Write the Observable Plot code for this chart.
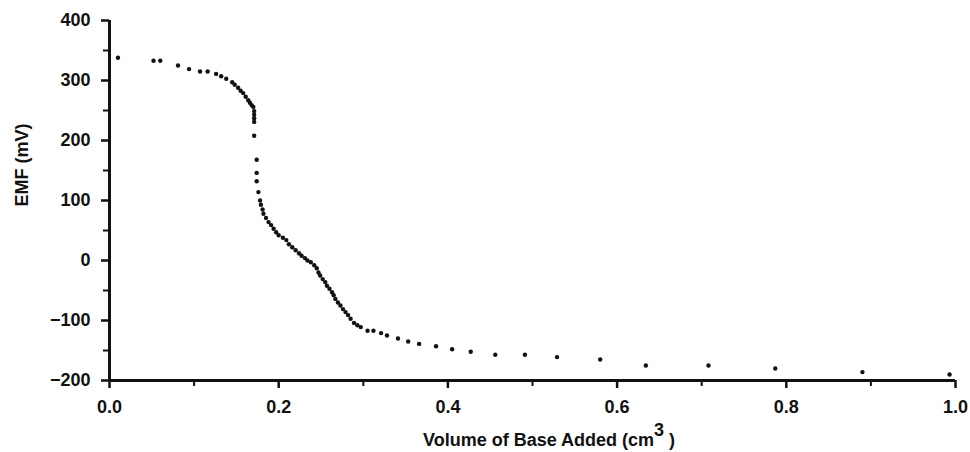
<!DOCTYPE html>
<html><head><meta charset="utf-8">
<script src="https://cdn.jsdelivr.net/npm/d3@7"></script>
<script src="https://cdn.jsdelivr.net/npm/@observablehq/plot@0.6"></script>
<style>body{margin:0;background:#fff;}</style>
</head><body><div id="chart"></div>
<script>
const volume = [0.010,0.052,0.060,0.081,0.094,0.107,0.116,0.126,0.132,0.138,0.145,0.148,0.152,0.155,0.158,0.161,0.164,0.166,0.168,0.170,0.171,0.171,0.171,0.171,0.171,0.174,0.174,0.174,0.176,0.178,0.179,0.181,0.182,0.185,0.188,0.191,0.194,0.197,0.200,0.205,0.209,0.212,0.216,0.220,0.224,0.227,0.231,0.234,0.238,0.242,0.245,0.247,0.249,0.252,0.255,0.257,0.260,0.263,0.265,0.267,0.270,0.273,0.276,0.279,0.282,0.285,0.289,0.293,0.297,0.305,0.312,0.321,0.328,0.341,0.353,0.366,0.386,0.405,0.427,0.456,0.491,0.529,0.580,0.634,0.708,0.787,0.890,0.993];
const emf = [338,333,333,325,319,315,315,311,307,303,297,293,288,283,279,273,267,263,259,256,249,243,237,231,208,168,146,132,114,100,93,85,78,71,64,59,53,47,42,38,34,27,22,17,12,8,4,0,-3,-8,-13,-20,-25,-31,-36,-42,-47,-53,-58,-64,-70,-75,-81,-86,-91,-97,-104,-108,-111,-117,-117,-121,-125,-130,-135,-139,-143,-148,-152,-157,-157,-161,-165,-175,-175,-180,-186,-190];
const xTicks = [0, 0.2, 0.4, 0.6, 0.8, 1.0];
const xMinorTicks = [0.1, 0.3, 0.5, 0.7, 0.9];
const yTicks = [-200, -100, 0, 100, 200, 300, 400];
const yMinorTicks = [-150, -50, 50, 150, 250, 350];
const yLabel = "EMF (mV)";
const xLabelMain = "Volume of Base Added (cm";
const xLabelSup = "3";
const xLabelEnd = " )";

const data = volume.map((v, i) => ({v, e: emf[i]}));

const plot = Plot.plot({
  width: 970, height: 452,
  marginLeft: 109, marginRight: 15, marginTop: 20, marginBottom: 72,
  x: {domain: [0, 1]},
  y: {domain: [-200, 400]},
  style: {fontFamily: "'Liberation Sans', Arial, sans-serif", fontSize: "18px", fontWeight: "bold", color: "#111", background: "#fff", overflow: "visible"},
  marks: [
    Plot.axisX({ticks: xTicks, tickFormat: d => d.toFixed(1), tickSize: 8, tickPadding: 12, label: null, strokeWidth: 2.5}),
    Plot.axisX({ticks: xMinorTicks, tickFormat: () => "", tickSize: 6, label: null, strokeWidth: 2}),
    Plot.axisY({ticks: yTicks, tickSize: 8, tickPadding: 11, label: null, strokeWidth: 2.5}),
    Plot.axisY({ticks: yMinorTicks, tickFormat: () => "", tickSize: 6, label: null, strokeWidth: 2}),
    Plot.ruleY([-200], {strokeWidth: 3, stroke: "#111"}),
    Plot.ruleX([0], {strokeWidth: 3, stroke: "#111"}),
    Plot.dot(data, {x: "v", y: "e", r: 2.2, fill: "#111", stroke: "none"}),
    Plot.text([yLabel], {frameAnchor: "left", dx: -87, dy: 6, rotate: -90, fontSize: 18, fontWeight: "bold", fill: "#111"})
  ]
});

const svg = d3.select(plot);
const t = svg.append("text")
  .attr("x", 549).attr("y", 446)
  .attr("text-anchor", "middle")
  .attr("fill", "#111")
  .attr("font-size", 18).attr("font-weight", "bold")
  .style("white-space", "pre");
t.append("tspan").text(xLabelMain);
t.append("tspan").attr("dy", -10).text(xLabelSup);
t.append("tspan").attr("dy", 10).text(xLabelEnd);

document.getElementById("chart").append(plot);
</script>
</body></html>
